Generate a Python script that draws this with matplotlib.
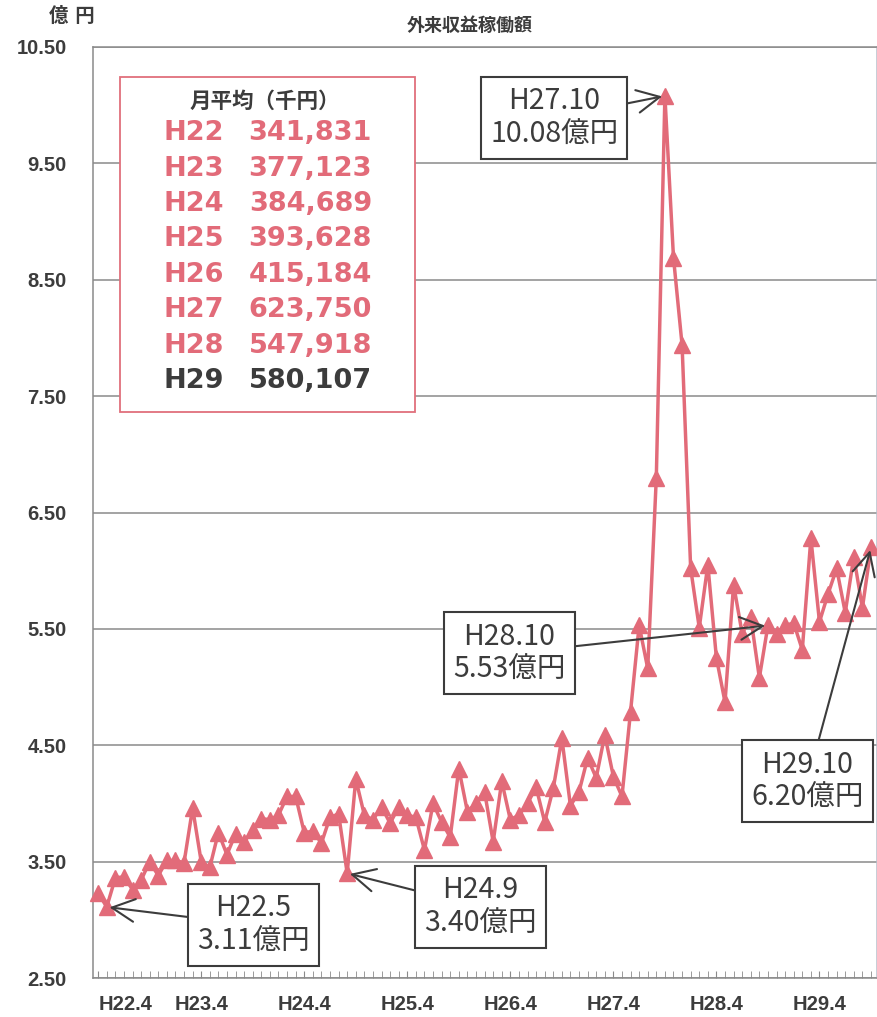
import matplotlib
matplotlib.use("Agg")
import matplotlib.pyplot as plt
from matplotlib.patches import Rectangle
from matplotlib.ticker import MultipleLocator, FixedLocator

# monthly values H22.4 - H29.10 (億円)
values = [3.23, 3.11, 3.36, 3.37, 3.26, 3.34, 3.50, 3.38, 3.51, 3.51, 3.49, 3.96,
          3.50, 3.45, 3.75, 3.56, 3.74, 3.67, 3.77, 3.87, 3.86, 3.90, 4.06, 4.06,
          3.75, 3.76, 3.66, 3.88, 3.91, 3.40, 4.21, 3.90, 3.86, 3.97, 3.83, 3.97,
          3.90, 3.88, 3.60, 4.00, 3.84, 3.71, 4.30, 3.93, 4.00, 4.10, 3.67, 4.19,
          3.86, 3.90, 4.00, 4.14, 3.84, 4.13, 4.56, 3.98, 4.10, 4.39, 4.22, 4.59,
          4.23, 4.06, 4.79, 5.53, 5.16, 6.80, 10.08, 8.69, 7.94, 6.02, 5.51, 6.05,
          5.25, 4.87, 5.88, 5.46, 5.60, 5.08, 5.53, 5.46, 5.53, 5.55, 5.32, 6.28,
          5.56, 5.80, 6.02, 5.64, 6.12, 5.68, 6.20]
months = list(range(len(values)))

tick_labels = ["H22.4", "H23.4", "H24.4", "H25.4", "H26.4", "H27.4", "H28.4", "H29.4"]
y_ticks = [2.5, 3.5, 4.5, 5.5, 6.5, 7.5, 8.5, 9.5, 10.5]

# yearly monthly averages (千円)
avg_years = ["H22", "H23", "H24", "H25", "H26", "H27", "H28", "H29"]
avg_values = ["341,831", "377,123", "384,689", "393,628", "415,184", "623,750", "547,918", "580,107"]

# callouts: label, index of month, box centre (month, value)
callouts = [
    ("H27.10\n10.08億円", 66, (53.1, 9.89)),
    ("H28.10\n5.53億円", 78, (47.9, 5.29)),
    ("H22.5\n3.11億円", 1, (18.1, 2.955)),
    ("H24.9\n3.40億円", 29, (44.5, 3.11)),
    ("H29.10\n6.20億円", 90, (82.6, 4.19)),
]

W, H = 878, 1017
pink = "#E26B79"
dark = "#3c3c3c"
grid = "#8a8a8a"
jp = ["DejaVu Sans", "Noto Sans CJK JP"]
plt.rcParams["font.family"] = ["Liberation Sans", "Noto Sans CJK JP"]

fig = plt.figure(figsize=(W / 100, H / 100), dpi=100)
ax = fig.add_axes([93 / W, 1 - 978 / H, (877 - 93) / W, (978 - 47) / H])

ax.plot(months, values, color=pink, lw=2.5, marker="^", markersize=12,
        markeredgecolor=pink, markerfacecolor=pink, zorder=3, clip_on=False)

ax.set_xlim(-0.6, 90.7)
ax.set_ylim(2.5, 10.5)
ax.set_yticks(y_ticks)
ax.set_yticklabels(["%.2f" % v for v in y_ticks])
ax.xaxis.set_major_locator(FixedLocator(list(range(0, 91, 12))))
ax.set_xticklabels(tick_labels)
ax.xaxis.set_minor_locator(MultipleLocator(1))
ax.grid(axis="y", color=grid, lw=1.1)
ax.set_axisbelow(True)
for s in ax.spines.values():
    s.set_color(grid)
    s.set_linewidth(1.1)
ax.spines["right"].set_color("#b8c0cc")

ax.tick_params(axis="y", length=0, pad=19, labelsize=14.5, labelcolor=dark)
ax.tick_params(axis="x", which="both", direction="in", length=5, color=grid,
               pad=12, labelsize=14.5, labelcolor=dark)
for t in ax.get_xticklabels() + ax.get_yticklabels():
    t.set_fontweight("bold")
lbls = ax.get_xticklabels()
lbls[0].set_horizontalalignment("left")

fig.text(470 / W, 1 - 26 / H, "外来収益稼働額", ha="center", va="center",
         fontsize=13, color=dark, family=jp, fontweight="bold")
fig.text(72 / W, 1 - 16 / H, "億 円", ha="center", va="center",
         fontsize=14, color=dark, family=jp, fontweight="bold")

# monthly average box
fig.patches.append(Rectangle((120 / W, 1 - 412 / H), (415 - 120) / W, (412 - 77) / H,
                             transform=fig.transFigure, facecolor="white",
                             edgecolor="#E0707C", lw=1.3, zorder=4))
fig.text(265 / W, 1 - 102 / H, "月平均（千円）", ha="center", va="center",
         fontsize=15.5, color=dark, family=jp, fontweight="bold", zorder=5)
for i, (yr, v) in enumerate(zip(avg_years, avg_values)):
    c = dark if yr == "H29" else pink
    yy = 1 - (133 + i * 35.5) / H
    fig.text(163 / W, yy, yr, ha="left", va="center", fontsize=19.5,
             color=c, family=jp, fontweight="bold", zorder=5)
    fig.text(372 / W, yy, v, ha="right", va="center", fontsize=19.5,
             color=c, family=jp, fontweight="bold", zorder=5)

for label, idx, pos in callouts:
    ax.annotate(label, xy=(idx, values[idx]), xytext=pos, ha="center", va="center",
                fontsize=20.5, color=dark, family=["Noto Sans CJK JP"], linespacing=1.15,
                bbox=dict(boxstyle="square,pad=0.32", fc="white", ec=dark, lw=1.5),
                arrowprops=dict(arrowstyle="->,head_length=0.8,head_width=0.4",
                                color=dark, lw=1.5, shrinkA=0, shrinkB=2),
                zorder=6, annotation_clip=False)

fig.savefig("out.png", dpi=100)
